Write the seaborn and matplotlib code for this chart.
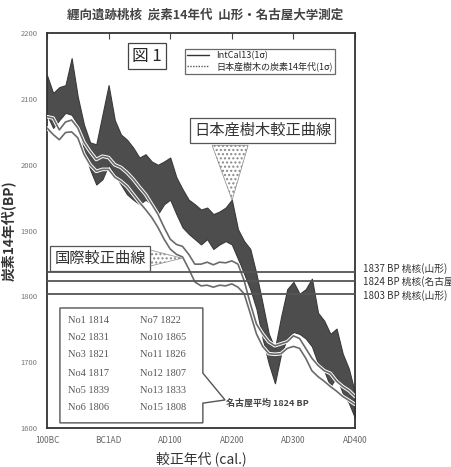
import numpy as np
import pandas as pd
import seaborn as sns
import matplotlib.pyplot as plt
from matplotlib.patches import Polygon
from matplotlib.lines import Line2D
import matplotlib.transforms as mtransforms

# calibrated years (negative = BC)
years = list(range(-100, 401, 10))

# Japanese tree-ring 14C age, 1 sigma band (BP)
jp_upper = [2136, 2109, 2118, 2121, 2162, 2103, 2061, 2034, 2031, 2076, 2121, 2068, 2046,
            2038, 2026, 2011, 2016, 2005, 2000, 2005, 2011, 1981, 1963, 1947, 1940, 1932,
            1935, 1925, 1929, 1935, 1947, 1902, 1884, 1872, 1834, 1789, 1743, 1721, 1769,
            1811, 1822, 1804, 1811, 1827, 1775, 1763, 1743, 1751, 1713, 1690, 1653]
jp_lower = [2076, 2056, 2068, 2079, 2076, 2061, 2023, 1993, 1970, 1978, 2000, 1985, 1970,
            1955, 1947, 1940, 1947, 1940, 1925, 1940, 1947, 1925, 1905, 1895, 1887, 1879,
            1887, 1872, 1879, 1884, 1879, 1857, 1834, 1811, 1781, 1736, 1698, 1668, 1713,
            1736, 1746, 1743, 1736, 1724, 1698, 1687, 1663, 1678, 1653, 1638, 1615]

# IntCal13 1 sigma lines (BP)
intcal_upper = [2073, 2071, 2053, 2065, 2068, 2056, 2034, 2020, 2008, 2013, 2011, 2000, 1996,
                1988, 1978, 1966, 1955, 1940, 1925, 1905, 1887, 1879, 1876, 1864, 1849, 1849,
                1852, 1848, 1852, 1851, 1854, 1849, 1824, 1789, 1758, 1743, 1731, 1725, 1728,
                1731, 1740, 1736, 1721, 1706, 1695, 1687, 1683, 1671, 1663, 1657, 1648]
intcal_lower = [2056, 2046, 2038, 2049, 2050, 2041, 2016, 2000, 1990, 1993, 1993, 1981, 1975,
                1967, 1955, 1943, 1932, 1920, 1905, 1887, 1872, 1864, 1860, 1842, 1822, 1816,
                1817, 1814, 1817, 1816, 1819, 1814, 1804, 1774, 1743, 1724, 1713, 1712, 1713,
                1721, 1724, 1721, 1706, 1687, 1678, 1671, 1663, 1656, 1648, 1642, 1636]

sample_bp = [1837, 1824, 1803]
sample_labels = ['1837 BP 桃核(山形)', '1824 BP 桃核(名古屋)', '1803 BP 桃核(山形)']

nagoya_ids = ['No1', 'No2', 'No3', 'No4', 'No5', 'No6',
              'No7', 'No10', 'No11', 'No12', 'No13', 'No15']
nagoya_bp = [1814, 1831, 1821, 1817, 1839, 1806, 1822, 1865, 1826, 1807, 1833, 1808]

xtick_vals = [-100, 0, 100, 200, 300, 400]
xtick_labels = ['100BC', 'BC1AD', 'AD100', 'AD200', 'AD300', 'AD400']
ytick_vals = [1600, 1700, 1800, 1900, 2000, 2100, 2200]

df = pd.DataFrame({'year': years, 'jp_upper': jp_upper, 'jp_lower': jp_lower,
                   'intcal_upper': intcal_upper, 'intcal_lower': intcal_lower})

sns.set_style('white')
plt.rcParams['font.family'] = ['Noto Sans CJK JP', 'DejaVu Sans']

fig = plt.figure(figsize=(4.51, 4.67), dpi=100)
ax = fig.add_axes([0.1042, 0.0835, 0.683, 0.8455])

ax.fill_between(df['year'], df['jp_lower'], df['jp_upper'], color='#4d4d4d',
                edgecolor='#3a3a3a', lw=0.8, zorder=2)
for col in ['intcal_upper', 'intcal_lower']:
    sns.lineplot(data=df, x='year', y=col, ax=ax, color='white', lw=2.6, zorder=3)
    sns.lineplot(data=df, x='year', y=col, ax=ax, color='#6a6a6a', lw=1.2, zorder=4)

for bp in sample_bp:
    ax.axhline(bp, color='#555555', lw=1.3, zorder=5)

ax.set_xlim(-100, 400)
ax.set_ylim(1600, 2200)
ax.set_xticks(xtick_vals)
ax.set_xticklabels(xtick_labels)
ax.set_yticks(ytick_vals)
ax.tick_params(axis='x', direction='in', top=True, length=4, labelsize=6,
               labelcolor='#666666', color='#444444', pad=6)
ax.tick_params(axis='y', direction='in', length=3, labelsize=5.5,
               labelcolor='#777777', color='#666666', pad=7)
for s in ax.spines.values():
    s.set_color('#333333')
    s.set_linewidth(1.3)
ax.set_xlabel('較正年代 (cal.)', fontsize=10, color='#333333', labelpad=4)
ax.set_ylabel('炭素14年代(BP)', fontsize=10, fontweight='bold', color='#333333', labelpad=2)
ax.yaxis.set_label_coords(-0.102, 0.5)

fig.text(0.455, 0.968, '纒向遺跡桃核  炭素14年代  山形・名古屋大学測定', fontsize=9,
         fontweight='bold', color='#444444', ha='center', va='center')

# figure label and legend
ax.text(0.325, 0.942, '図 1', transform=ax.transAxes, fontsize=12, ha='center', va='center',
        bbox=dict(boxstyle='square,pad=0.25', fc='white', ec='#444444', lw=0.9), zorder=8)
handles = [Line2D([], [], color='#333333', lw=1.0),
           Line2D([], [], color='#555555', lw=1.0, ls=(0, (1, 1)))]
leg = ax.legend(handles, ['IntCal13(1σ)', '日本産樹木の炭素14年代(1σ)'], loc='upper left',
                bbox_to_anchor=(0.432, 0.972), fontsize=6.5, frameon=True, fancybox=False,
                edgecolor='#444444', handlelength=2.4, borderpad=0.3, labelspacing=0.1)
leg.get_frame().set_linewidth(0.9)
leg.set_zorder(8)

# callouts
ax.add_patch(Polygon([(0.536, 0.716), (0.653, 0.716), (0.601, 0.577)], closed=True,
                     transform=ax.transAxes, fc='white', ec='#888888', hatch='....', lw=0.5, zorder=6))
ax.text(0.701, 0.754, '日本産樹木較正曲線', transform=ax.transAxes, fontsize=11, ha='center',
        va='center', color='#333333',
        bbox=dict(boxstyle='square,pad=0.25', fc='white', ec='#555555', lw=0.9), zorder=8)
ax.add_patch(Polygon([(0.334, 0.451), (0.334, 0.410), (0.438, 0.430)], closed=True,
                     transform=ax.transAxes, fc='white', ec='#888888', hatch='....', lw=0.5, zorder=6))
ax.text(0.172, 0.430, '国際較正曲線', transform=ax.transAxes, fontsize=11, ha='center',
        va='center', color='#333333',
        bbox=dict(boxstyle='square,pad=0.25', fc='white', ec='#555555', lw=0.9), zorder=8)

# Nagoya measurement table
ax.add_patch(Polygon([(0.042, 0.304), (0.506, 0.304), (0.506, 0.139), (0.578, 0.071),
                      (0.506, 0.063), (0.506, 0.013), (0.042, 0.013)], closed=True,
                     transform=ax.transAxes, fc='white', ec='#555555', lw=1.0, zorder=7))
rows_y = [0.273, 0.228, 0.185, 0.139, 0.096, 0.051]
for i, (nid, bp) in enumerate(zip(nagoya_ids, nagoya_bp)):
    cx = 0.068 if i < 6 else 0.302
    ax.text(cx, rows_y[i % 6], f'{nid} {bp}', transform=ax.transAxes, fontsize=7.5,
            family='Liberation Serif', color='#555555', va='center', zorder=9)
ax.text(0.582, 0.063, f'名古屋平均 {int(round(np.mean(nagoya_bp)))} BP', transform=ax.transAxes,
        fontsize=6.5, fontweight='bold', color='#444444', va='center', zorder=9)

# labels right of the plot, spread a little so they don't collide
trans = mtransforms.blended_transform_factory(ax.transAxes, ax.transData)
for bp, lab, off in zip(sample_bp, sample_labels, [6, -2, -2]):
    ax.text(1.025, bp + off, lab, transform=trans, fontsize=7, color='#333333',
            va='center', ha='left', clip_on=False)

fig.savefig('out.png', dpi=100)
